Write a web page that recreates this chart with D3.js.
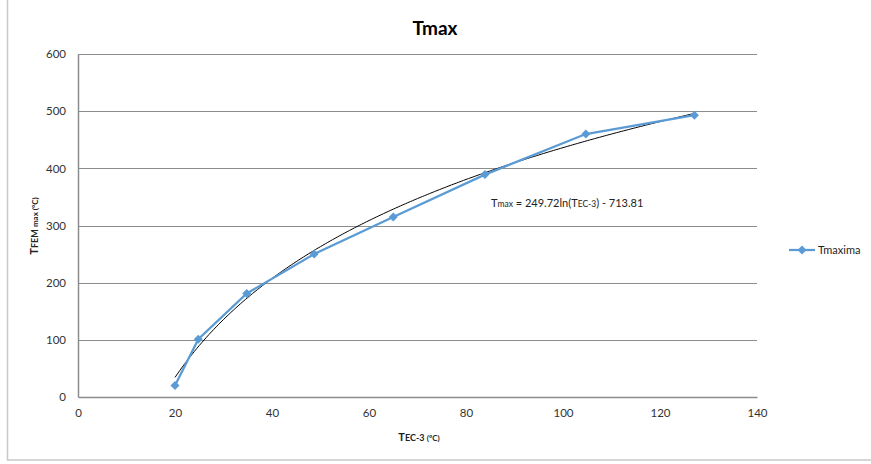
<!DOCTYPE html>
<html>
<head>
<meta charset="utf-8">
<script src="https://cdn.jsdelivr.net/npm/d3@7"></script>
<style>
  body { margin: 0; background: white; }
  svg { font-family: Lato, "Open Sans", sans-serif; }
</style>
</head>
<body>
<div id="chartdiv"></div>
<script>
// data
const tec3 = [20, 24.8, 34.8, 48.7, 65, 83.9, 104.7, 127.1]
const tmaxima = [20, 101, 181, 250, 315, 389, 460, 493]
const xTicks = [0, 20, 40, 60, 80, 100, 120, 140]
const yTicks = [0, 100, 200, 300, 400, 500, 600]
// log trendline coefficients, from the label on the chart
const trendA = 249.72
const trendB = -713.81

const W = 871, H = 464
const svg = d3.select('#chartdiv').append('svg').attr('width', W).attr('height', H)

// outer chart frame
svg.append('rect')
    .attr('x', 7.5).attr('y', -2).attr('width', W + 10).attr('height', 462)
    .attr('fill', 'white').attr('stroke', '#c8c8c8').attr('stroke-width', 1.5)

const x = d3.scaleLinear().domain([0, 140]).range([78, 757])
const y = d3.scaleLinear().domain([0, 600]).range([397, 54])

// gridlines
svg.append('g').selectAll('line').data(yTicks.filter(d => d > 0)).enter().append('line')
    .attr('x1', x(0)).attr('x2', x(140))
    .attr('y1', d => Math.round(y(d)) + 0.5).attr('y2', d => Math.round(y(d)) + 0.5)
    .attr('stroke', '#8c8c8c').attr('stroke-width', 1)

// axes
const yAxis = svg.append('g').attr('transform', 'translate(' + x(0) + ',0)')
    .call(d3.axisLeft(y).tickValues(yTicks).tickSize(0).tickPadding(12))
const xAxis = svg.append('g').attr('transform', 'translate(0,' + y(0) + ')')
    .call(d3.axisBottom(x).tickValues(xTicks).tickSize(0).tickPadding(12))
svg.selectAll('.domain').attr('stroke', '#8c8c8c').attr('stroke-width', 1.5)
svg.selectAll('.tick text').attr('font-size', 11.5).attr('fill', '#333')
    .attr('font-family', 'Lato, "Open Sans", sans-serif')

// trendline
const trendPts = d3.range(20, 127.2, 0.5).map(v => [v, trendA * Math.log(v) + trendB])
svg.append('path').datum(trendPts)
    .attr('d', d3.line().x(d => x(d[0])).y(d => y(d[1])))
    .attr('fill', 'none').attr('stroke', 'black').attr('stroke-width', 1)

// series
const pts = tec3.map((v, i) => [v, tmaxima[i]])
const blue = '#5b9bd5'
svg.append('path').datum(pts)
    .attr('d', d3.line().x(d => x(d[0])).y(d => y(d[1])))
    .attr('fill', 'none').attr('stroke', blue).attr('stroke-width', 2.25)
// excel style diamond, as wide as it is tall
const diamond = 'M0,-4.5L4.5,0L0,4.5L-4.5,0Z'
svg.append('g').selectAll('path').data(pts).enter().append('path')
    .attr('d', diamond)
    .attr('transform', d => 'translate(' + x(d[0]) + ',' + y(d[1]) + ')')
    .attr('fill', blue)

// title
svg.append('text').attr('x', 435).attr('y', 35).attr('text-anchor', 'middle')
    .attr('font-size', 19).attr('font-weight', 'bold').text('Tmax')

// equation label
const eq = svg.append('text').attr('x', 491).attr('y', 207).attr('font-size', 11).attr('fill', '#222')
eq.append('tspan').text('T')
eq.append('tspan').attr('font-size', 8.5).text('max')
eq.append('tspan').text(' = 249.72ln(T')
eq.append('tspan').attr('font-size', 8.5).text('EC-3')
eq.append('tspan').text(') - 713.81')

// axis titles
const xt = svg.append('text').attr('x', 419).attr('y', 441).attr('text-anchor', 'middle')
    .attr('font-size', 11).attr('font-weight', 'bold').attr('fill', '#222')
xt.append('tspan').text('T')
xt.append('tspan').attr('font-size', 9).text('EC-3 ')
xt.append('tspan').attr('font-size', 8).text('(ºC)')

const yt = svg.append('text').attr('transform', 'translate(38,226) rotate(-90)').attr('text-anchor', 'middle')
    .attr('font-size', 11).attr('font-weight', 'bold').attr('fill', '#222')
yt.append('tspan').text('T')
yt.append('tspan').attr('font-size', 9).text('FEM ')
yt.append('tspan').attr('font-size', 8).text('max (ºC)')

// legend
const lg = svg.append('g').attr('transform', 'translate(789,250)')
lg.append('line').attr('x1', 0).attr('x2', 26).attr('stroke', blue).attr('stroke-width', 2.25)
lg.append('path').attr('d', diamond).attr('transform', 'translate(13,0)').attr('fill', blue)
lg.append('text').attr('x', 29).attr('y', 4).attr('font-size', 11).attr('fill', '#222').text('Tmaxima')
</script>
</body>
</html>
